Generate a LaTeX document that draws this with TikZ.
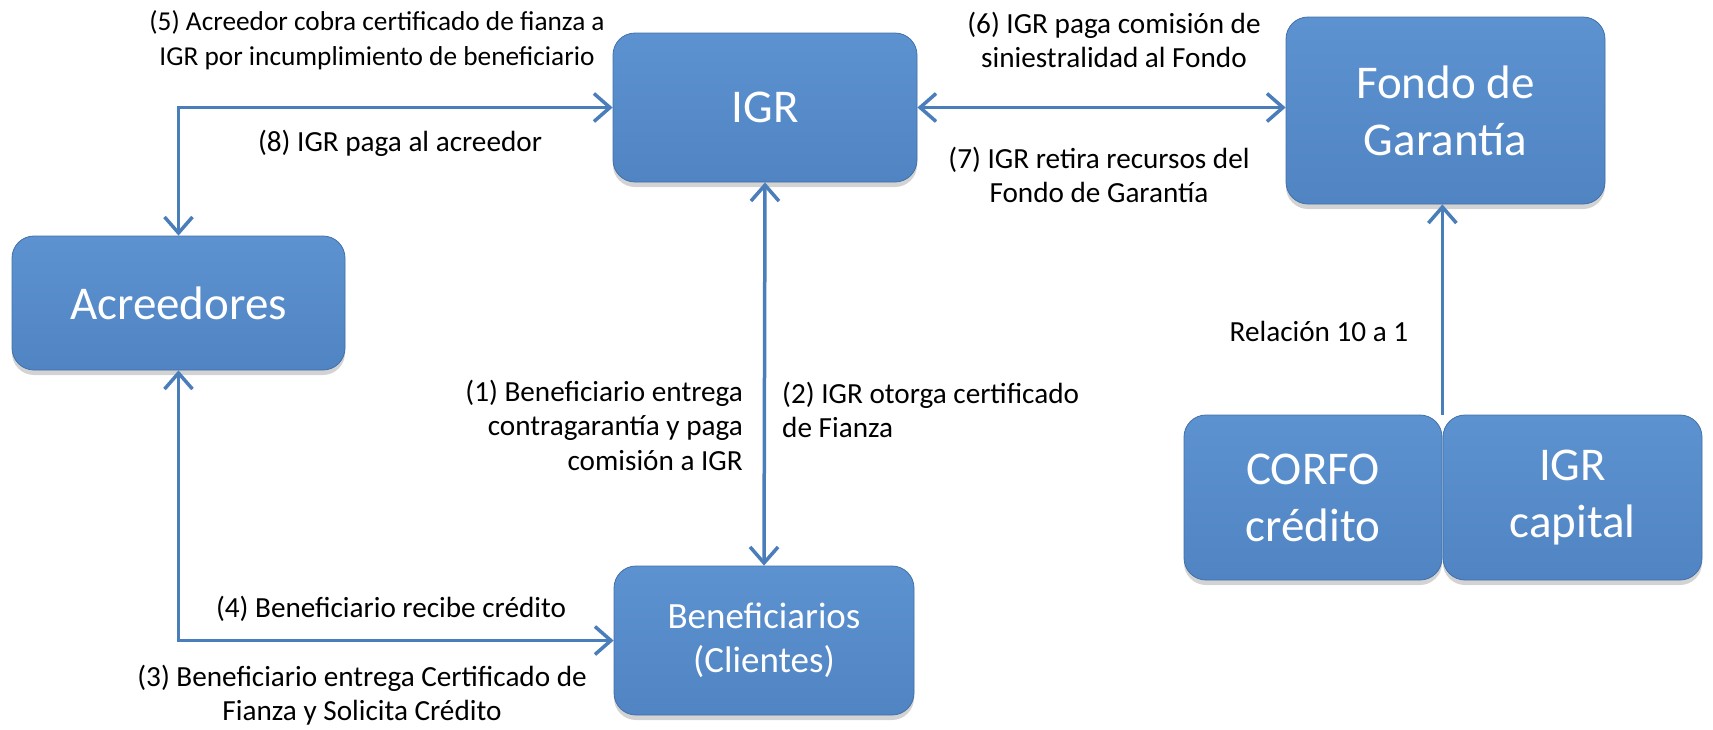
\documentclass[tikz,border=0pt]{standalone}
\usepackage{fontspec}
\setmainfont{Carlito}
\usetikzlibrary{positioning, arrows.meta, shadows}

\definecolor{boxblue}{RGB}{85,139,202}
\definecolor{boxtop}{RGB}{93,146,209}
\definecolor{boxbot}{RGB}{80,132,195}
\definecolor{boxline}{RGB}{66,112,168}
\definecolor{flowblue}{RGB}{74,126,187}

\tikzset{
  caja/.style={rectangle, rounded corners=22pt, top color=boxtop, bottom color=boxbot,
    draw=boxline, line width=0.8pt, text=white, align=center, inner sep=0pt,
    font=\fontsize{47}{57}\selectfont,
    drop shadow={shadow xshift=0pt, shadow yshift=-5pt, opacity=0.35}},
  flujo/.style={draw=flowblue, line width=3.5pt,
    arrows={-Straight Barb[length=16pt, width=28pt, line width=3.5pt]}},
  ambos/.style={flujo, arrows={Straight Barb[length=16pt, width=28pt, line width=3.5pt]-Straight Barb[length=16pt, width=28pt, line width=3.5pt]}},
  rotulo/.style={inner sep=0pt, font=\fontsize{29.2}{34.5}\selectfont}
}

\begin{document}
\begin{tikzpicture}[x=1pt, y=-1pt]
\useasboundingbox (0,0) rectangle (1713,729);

% cajas
\node[caja, minimum width=304pt, minimum height=149pt] (igr) at (765,107.5) {IGR};
\node[caja, minimum width=333pt, minimum height=134pt] (acr) at (178.5,303) {Acreedores};
\node[caja, minimum width=300pt, minimum height=149pt, font=\fontsize{37}{44}\selectfont] (ben) at (764,640.5) {Beneficiarios\\(Clientes)};
\node[caja, minimum width=319pt, minimum height=187pt] (fondo) at (1445.5,110.5) {Fondo de\\Garantía};
\node[caja, minimum width=258pt, minimum height=165pt] (corfo) at (1313,497.5) {CORFO\\crédito};
\node[caja, minimum width=259pt, minimum height=165pt] (cap) at (1572.5,497.5) {IGR\\capital};

% flechas
\draw[ambos] (acr.north) |- (igr.west);
\draw[ambos] (acr.south) |- (ben.west);
\draw[ambos] (igr.south) -- (ben.north);
\draw[ambos] (igr.east) -- (igr.east -| fondo.west);
\draw[flujo] (corfo.north east) -- (corfo.north east |- fondo.south);

% rotulos
\node[rotulo, align=center, font=\fontsize{27.3}{35}\selectfont] (t5) at (377,40) {(5) Acreedor cobra certificado de fianza a\\IGR por incumplimiento de beneficiario};
\node[rotulo] (t8) at (400,143) {(8) IGR paga al acreedor};
\node[rotulo, align=center] (t6) at (1114,40) {(6) IGR paga comisión de\\siniestralidad al Fondo};
\node[rotulo, align=center] (t7) at (1099,175) {(7) IGR retira recursos del\\Fondo de Garantía};
\node[rotulo] (trel) at (1319,331) {Relación 10 a 1};
\node[rotulo, align=right, anchor=east] (t1) at (743,425) {(1) Beneficiario entrega\\contragarantía y paga\\comisión a IGR};
\node[rotulo, align=left, anchor=west] (t2) at (782,410) {(2) IGR otorga certificado\\de Fianza};
\node[rotulo] (t4) at (391,609) {(4) Beneficiario recibe crédito};
\node[rotulo, align=center] (t3) at (362,695) {(3) Beneficiario entrega Certificado de\\Fianza y Solicita Crédito};
\end{tikzpicture}
\end{document}
